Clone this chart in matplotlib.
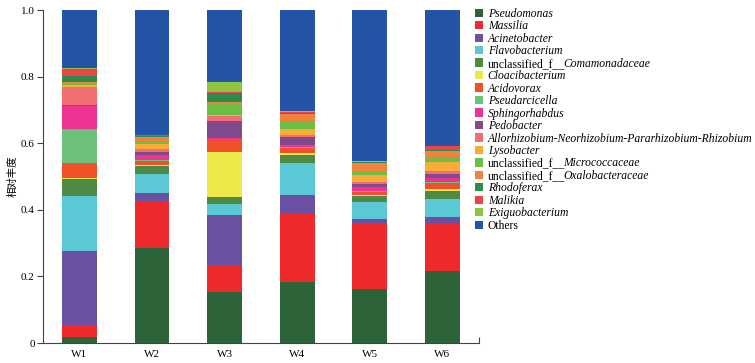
import matplotlib
matplotlib.use('Agg')
import matplotlib.pyplot as plt
import numpy as np

plt.rcParams['font.family'] = ['Liberation Serif', 'DejaVu Serif']

# samples
samples = ['W1', 'W2', 'W3', 'W4', 'W5', 'W6']

# taxa (bottom to top) and their colours
taxa = ['Pseudomonas', 'Massilia', 'Acinetobacter', 'Flavobacterium',
        'unclassified_f__Comamonadaceae', 'Cloacibacterium', 'Acidovorax',
        'Pseudarcicella', 'Sphingorhabdus', 'Pedobacter',
        'Allorhizobium-Neorhizobium-Pararhizobium-Rhizobium', 'Lysobacter',
        'unclassified_f__Micrococcaceae', 'unclassified_f__Oxalobacteraceae',
        'Rhodoferax', 'Malikia', 'Exiguobacterium', 'Others']

colors = ['#2C6339', '#EE2A2C', '#6A51A1', '#5BC8D6', '#4F8A45', '#EBE84A',
          '#F0512A', '#6CC27A', '#EE3392', '#814A8C', '#F16F72', '#F8AD3A',
          '#6DBE45', '#F3823F', '#2E8B4F', '#F04349', '#8BC541', '#2553A5']

# relative abundance per taxon, one value per sample (W1..W6)
pseudomonas    = [0.018, 0.285, 0.153, 0.184, 0.163, 0.215]
massilia       = [0.035, 0.142, 0.082, 0.205, 0.198, 0.143]
acinetobacter  = [0.222, 0.024, 0.150, 0.056, 0.012, 0.022]
flavobacterium = [0.168, 0.056, 0.033, 0.097, 0.051, 0.052]
comamonadaceae = [0.050, 0.026, 0.020, 0.023, 0.018, 0.024]
cloacibacterium = [0.004, 0.003, 0.135, 0.006, 0.002, 0.007]
acidovorax     = [0.044, 0.011, 0.039, 0.015, 0.010, 0.017]
pseudarcicella = [0.101, 0.004, 0.002, 0.003, 0.004, 0.003]
sphingorhabdus = [0.070, 0.014, 0.001, 0.005, 0.010, 0.013]
pedobacter     = [0.002, 0.010, 0.053, 0.025, 0.009, 0.012]
allorhizobium  = [0.056, 0.008, 0.013, 0.007, 0.007, 0.010]
lysobacter     = [0.006, 0.014, 0.004, 0.018, 0.022, 0.027]
micrococcaceae = [0.004, 0.006, 0.032, 0.023, 0.010, 0.015]
oxalobacteraceae = [0.003, 0.016, 0.007, 0.020, 0.025, 0.017]
rhodoferax     = [0.019, 0.002, 0.028, 0.003, 0.002, 0.003]
malikia        = [0.022, 0.003, 0.003, 0.005, 0.002, 0.012]
exiguobacterium = [0.002, 0.001, 0.030, 0.001, 0.001, 0.001]
others         = [0.174, 0.375, 0.215, 0.304, 0.454, 0.407]

values = [pseudomonas, massilia, acinetobacter, flavobacterium, comamonadaceae,
          cloacibacterium, acidovorax, pseudarcicella, sphingorhabdus, pedobacter,
          allorhizobium, lysobacter, micrococcaceae, oxalobacteraceae, rhodoferax,
          malikia, exiguobacterium, others]

yticks = [0, 0.2, 0.4, 0.6, 0.8, 1.0]
ytick_labels = ['0', '0.2', '0.4', '0.6', '0.8', '1.0']

fig = plt.figure(figsize=(7.55, 3.63), dpi=100)
ax = fig.add_axes([0.057, 0.055, 0.577, 0.917])

x = np.arange(len(samples))
bottom = np.zeros(len(samples))
handles = []
for name, vals, c in zip(taxa, values, colors):
    b = ax.bar(x, vals, width=0.48, bottom=bottom, color=c, linewidth=0)
    handles.append(b)
    bottom += np.array(vals)

ax.set_xlim(-0.5, 5.5)
ax.set_ylim(0, 1.0)
ax.set_xticks(x)
ax.set_xticklabels(samples, fontsize=8)
ax.set_yticks(yticks)
ax.set_yticklabels(ytick_labels, fontsize=8)
ax.tick_params(axis='x', length=0, pad=5)
ax.tick_params(axis='y', length=4, width=0.8, color='#444444', pad=2)
# small end tick at the right of the x axis
ax.set_xticks([5.5], minor=True)
ax.tick_params(axis='x', which='minor', direction='in', length=4, width=0.8, color='#444444')

for s in ['top', 'right']:
    ax.spines[s].set_visible(False)
for s in ['left', 'bottom']:
    ax.spines[s].set_color('#444444')
    ax.spines[s].set_linewidth(0.8)

ax.set_ylabel('相对丰度', family=['Noto Sans CJK SC', 'DejaVu Sans'], fontsize=7.5, labelpad=2)

# legend: plain prefix for unclassified entries, italic part added after
prefix = 'unclassified_f__'
labels = [prefix if t.startswith(prefix) else t for t in taxa]

fs = 8.4
leg = ax.legend(handles, labels, loc='upper left', bbox_to_anchor=(0.991, 1.007),
                frameon=False, fontsize=fs, handlelength=0.72, handleheight=0.72,
                handletextpad=0.4, labelspacing=0.04, borderaxespad=0.0, borderpad=0.0)
for txt, t in zip(leg.get_texts(), taxa):
    if t.startswith(prefix):
        # drawn after the legend so the text position is already set
        ax.annotate(t[len(prefix):], xy=(1, 0), xycoords=txt, xytext=(-1.5, 0),
                    textcoords='offset points', ha='left', va='bottom',
                    fontsize=fs, fontstyle='italic', annotation_clip=False, zorder=6)
    elif t != 'Others':
        txt.set_fontstyle('italic')

fig.savefig('out.png', dpi=100)
